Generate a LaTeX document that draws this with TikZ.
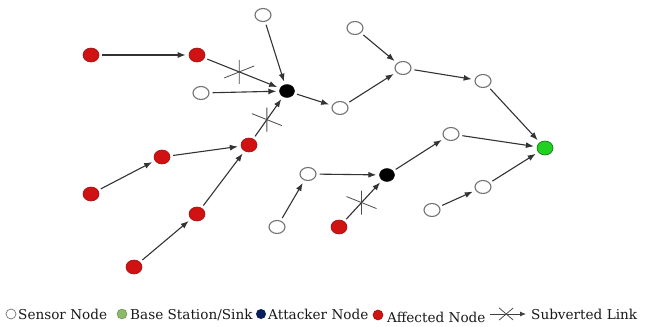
\documentclass[tikz,border=0pt]{standalone}
\usepackage{fontspec}
\setmainfont{DejaVu Serif}
\usepackage{tikz}
\usetikzlibrary{calc,arrows.meta,shapes.geometric}
\definecolor{affred}{HTML}{D01212}
\definecolor{sinkgreen}{HTML}{22D022}
\definecolor{legnavy}{HTML}{0B1F5E}
\definecolor{leggreen}{HTML}{8DBA68}
\def\subx(#1)(#2)(#3){\draw[crossline] ($(#1)!0.47!(#2)$) +(0,-12) -- +(0,12) +(-15,#3) -- +(15,-#3);}
\tikzset{
	sensor/.style={ellipse,draw=black!55,line width=1.1pt,fill=white,minimum width=16pt,minimum height=13pt,inner sep=0pt},
	affected/.style={ellipse,draw=affred!75!black,line width=0.6pt,fill=affred,minimum width=16pt,minimum height=14pt,inner sep=0pt},
	attacker/.style={ellipse,draw=black,fill=black,minimum width=15pt,minimum height=13pt,inner sep=0pt},
	sink/.style={ellipse,draw=green!45!black,line width=0.6pt,fill=sinkgreen,minimum width=16pt,minimum height=14pt,inner sep=0pt},
	link/.style={draw=black!80,line width=1.1pt,-{Latex[length=8pt,width=6pt]},shorten >=3pt,shorten <=3pt},
	crossline/.style={draw=black!70,line width=0.8pt},
	legtext/.style={anchor=base west,inner sep=0pt,text=black!90,font=\fontsize{13.6}{15}\selectfont}
}
\begin{document}
\begin{tikzpicture}[x=1pt,y=-1pt]
		%%%%% START %%%%%
		\useasboundingbox (0,0) rectangle (649,327);
		
		% sensor nodes
		\node[sensor] (s1) at (263,15) {};
		\node[sensor] (s2) at (355,28) {};
		\node[sensor] (s3) at (403,68) {};
		\node[sensor] (s4) at (201,93) {};
		\node[sensor] (s5) at (340,108) {};
		\node[sensor] (s6) at (483,81) {};
		\node[sensor] (s7) at (451,134) {};
		\node[sensor] (s8) at (308,174) {};
		\node[sensor] (s9) at (277,227) {};
		\node[sensor] (s10) at (483,187) {};
		\node[sensor] (s11) at (432,210) {};
		
		% attackers and sink
		\node[attacker] (a1) at (287,91) {};
		\node[attacker] (a2) at (387,175) {};
		\node[sink] (bs) at (545,148) {};
		
		% affected nodes
		\node[affected] (r1) at (91,55) {};
		\node[affected] (r2) at (197,55) {};
		\node[affected] (r3) at (249,145) {};
		\node[affected] (r4) at (162,157) {};
		\node[affected] (r5) at (91,194) {};
		\node[affected] (r6) at (197,214) {};
		\node[affected] (r7) at (134,267) {};
		\node[affected] (r8) at (339,227) {};
		
		% links
		\draw[link] (r1) -- (r2);
		\draw[link] (r2) -- (a1);
		\draw[link] (s1) -- (a1);
		\draw[link] (s4) -- (a1);
		\draw[link] (r3) -- (a1);
		\draw[link] (a1) -- (s5);
		\draw[link] (s5) -- (s3);
		\draw[link] (s2) -- (s3);
		\draw[link] (s3) -- (s6);
		\draw[link] (s6) -- (bs);
		\draw[link] (s7) -- (bs);
		\draw[link] (s10) -- (bs);
		\draw[link] (s11) -- (s10);
		\draw[link] (a2) -- (s7);
		\draw[link] (s8) -- (a2);
		\draw[link] (s9) -- (s8);
		\draw[link] (r8) -- (a2);
		\draw[link] (r5) -- (r4);
		\draw[link] (r4) -- (r3);
		\draw[link] (r7) -- (r6);
		\draw[link] (r6) -- (r3);
		
		% subverted links
		\subx(r2)(a1)(6)
		\subx(r3)(a1)(-6)
		\subx(r8)(a2)(-6)
		
		% legend
		\node[sensor,minimum width=10pt,minimum height=10pt,line width=0.7pt] (ls) at (11,314) {};
		\node[legtext] (lst) at (18,319) {Sensor Node};
		\node[ellipse,draw=leggreen!70!black,fill=leggreen,minimum width=10pt,minimum height=10pt,inner sep=0pt] (lb) at (122,314) {};
		\node[legtext] (lbt) at (130,319) {Base Station/Sink};
		\node[ellipse,fill=legnavy,minimum width=10pt,minimum height=10pt,inner sep=0pt] (la) at (261,314) {};
		\node[legtext] (lat) at (268,319) {Attacker Node};
		\node[affected,minimum width=10pt,minimum height=10pt] (lr) at (378,315) {};
		\node[legtext] (lrt) at (387,322) {Affected Node};
		\coordinate (lk1) at (490,314);
		\coordinate (lk2) at (526,314);
		\draw[draw=black!75,line width=0.8pt,-{Latex[length=6pt,width=5pt]}] (lk1) -- (lk2);
		\draw[crossline] ($(lk1)!0.45!(lk2)$) +(-7,-6) -- +(7,6) +(-7,6) -- +(7,-6);
		\node[legtext] (lkt) at (531,319) {Subverted Link};
		
		%%%%% END %%%%%
\end{tikzpicture}
\end{document}
